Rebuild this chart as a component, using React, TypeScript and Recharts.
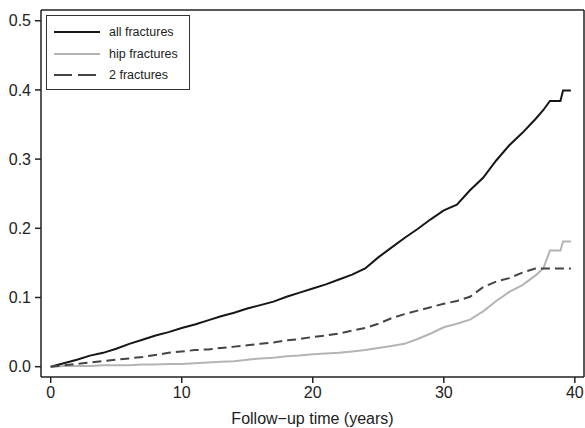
import React from "react";
import { LineChart, Line, XAxis, YAxis, ReferenceLine } from "recharts";

const times = [0,1,2,3,4,5,6,7,8,9,10,11,12,13,14,15,16,17,18,19,20,21,22,23,24,25,26,27,28,29,30,31,32,33,34,35,36,37,37.6,38.1,38.9,39.1,39.7];
const allFractures = [0,0.005,0.010,0.016,0.020,0.026,0.033,0.039,0.045,0.050,0.056,0.061,0.067,0.073,0.078,0.084,0.089,0.094,0.101,0.107,0.113,0.119,0.126,0.133,0.142,0.158,0.172,0.186,0.199,0.213,0.226,0.234,0.255,0.273,0.298,0.320,0.338,0.358,0.371,0.384,0.384,0.399,0.399];
const hipFractures = [0,0.001,0.001,0.001,0.002,0.002,0.002,0.003,0.003,0.004,0.004,0.005,0.006,0.007,0.008,0.010,0.012,0.013,0.015,0.016,0.018,0.019,0.020,0.022,0.024,0.027,0.030,0.033,0.040,0.048,0.057,0.062,0.068,0.080,0.095,0.108,0.118,0.132,0.142,0.168,0.168,0.181,0.181];
const twoFractures = [0,0.002,0.004,0.006,0.008,0.010,0.012,0.014,0.017,0.020,0.022,0.024,0.025,0.027,0.029,0.031,0.033,0.035,0.038,0.040,0.043,0.045,0.048,0.052,0.056,0.062,0.070,0.076,0.081,0.086,0.091,0.095,0.101,0.115,0.123,0.128,0.136,0.142,0.142,0.142,0.142,0.142,0.142];

const xTicks = [0, 10, 20, 30, 40];
const yTicks = [0, 0.1, 0.2, 0.3, 0.4, 0.5];
const xDomain = [-0.74, 40.7];
const yDomain = [-0.0149, 0.5155];

const seriesNames = ["all fractures", "hip fractures", "2 fractures"];
const seriesKeys = ["all", "hip", "two"];
const seriesColors = ["#161616", "#b4b4b4", "#444444"];
const seriesDash = [undefined, undefined, "9 5"];
const legendDash = [undefined, undefined, "18 6"];

const data = times.map((t, i) => ({
  t,
  all: allFractures[i],
  hip: hipFractures[i],
  two: twoFractures[i],
}));

const FONT = "'Liberation Sans', Arial, Helvetica, sans-serif";

const LegendBox = () => (
  <div
    style={{
      position: "absolute",
      left: 46,
      top: 15,
      width: 144,
      height: 75,
      boxSizing: "border-box",
      border: "1px solid #333",
      background: "#fff",
      fontFamily: FONT,
      fontSize: 12.5,
      color: "#222",
    }}
  >
    {seriesNames.map((name, i) => (
      <div key={name} style={{ position: "absolute", left: 0, top: 16 + i * 21.5 - 9, height: 18, width: 142 }}>
        <svg width={50} height={18} style={{ position: "absolute", left: 6, top: 0 }}>
          <line x1={1} y1={9} x2={47} y2={9} stroke={seriesColors[i]} strokeWidth={2} strokeDasharray={legendDash[i]} />
        </svg>
        <span style={{ position: "absolute", left: 62, top: 0, lineHeight: "18px", whiteSpace: "nowrap" }}>{name}</span>
      </div>
    ))}
  </div>
);

export default function App() {
  return (
    <div style={{ position: "absolute", left: 0, top: 0, width: 585, height: 428, background: "#fff" }}>
      <LineChart
        width={585}
        height={428}
        data={data}
        margin={{ top: 10, right: 1, left: 0, bottom: 0 }}
        style={{ fontFamily: FONT }}
      >
        <XAxis
          dataKey="t"
          type="number"
          domain={xDomain}
          ticks={xTicks}
          allowDataOverflow
          height={51}
          tickSize={6}
          tickMargin={4}
          stroke="#222"
          strokeWidth={1.5}
          tick={{ fill: "#222", fontSize: 16, fontFamily: FONT }}
          label={{ value: "Follow\u2212up time (years)", position: "insideBottom", offset: 4, fill: "#222", fontSize: 16, fontFamily: FONT }}
        />
        <YAxis
          type="number"
          domain={yDomain}
          ticks={yTicks}
          allowDataOverflow
          width={41}
          tickSize={6}
          tickMargin={4}
          stroke="#222"
          strokeWidth={1.5}
          tickFormatter={(v: number) => v.toFixed(1)}
          tick={{ fill: "#222", fontSize: 16, fontFamily: FONT }}
        />
        <ReferenceLine y={yDomain[1]} stroke="#222" strokeWidth={1.5} ifOverflow="visible" />
        <ReferenceLine x={xDomain[1]} stroke="#222" strokeWidth={1.5} ifOverflow="visible" />
        {seriesKeys.map((k, i) => (
          <Line
            key={k}
            dataKey={k}
            name={seriesNames[i]}
            type="linear"
            stroke={seriesColors[i]}
            strokeWidth={2}
            strokeDasharray={seriesDash[i]}
            dot={false}
            activeDot={false}
            isAnimationActive={false}
          />
        ))}
      </LineChart>
      <LegendBox />
    </div>
  );
}
